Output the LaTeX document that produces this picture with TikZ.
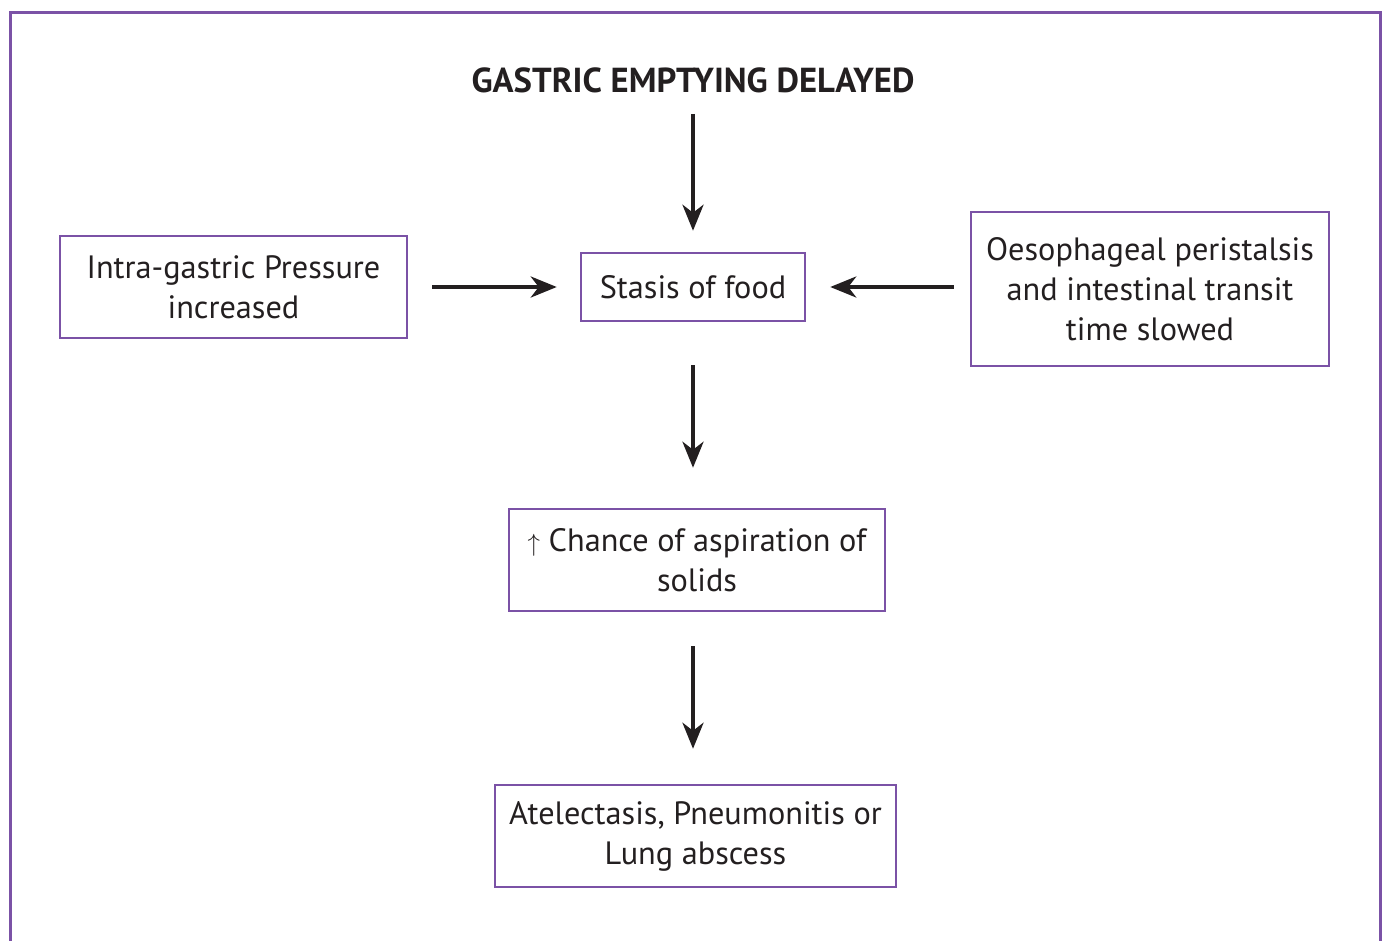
\documentclass[tikz,border=0pt]{standalone}
\usepackage{fontspec}
\setmainfont{PT Sans}
\usetikzlibrary{arrows.meta}
\definecolor{frame}{HTML}{7B52A6}
\definecolor{ink}{HTML}{231F20}
\begin{document}
\begin{tikzpicture}[x=1pt,y=-1pt,
  box/.style={draw=frame,line width=2.5pt,align=center,text=ink,inner sep=0pt,
    font=\fontsize{32.3}{40}\selectfont},
  flow/.style={draw=ink,line width=4pt,-{Stealth[length=26pt,width=21pt,inset=8pt]}}]
\useasboundingbox (0,0) rectangle (1384,940);
\draw[frame,line width=3pt] (10,945) -- (10,12) -- (1380,12) -- (1380,945);
\node[text=ink,font=\fontsize{34.7}{40}\selectfont\bfseries,inner sep=0pt] (title) at (693,80) {GASTRIC EMPTYING DELAYED};
\node[box,minimum width=224pt,minimum height=68pt] (stasis) at (693,287) {Stasis of food};
\node[box,minimum width=347pt,minimum height=102pt] (left) at (233.5,287) {Intra-gastric Pressure\\increased};
\node[box,minimum width=358pt,minimum height=154pt] (right) at (1150,289) {Oesophageal peristalsis\\and intestinal transit\\time slowed};
\node[box,minimum width=376pt,minimum height=102pt] (chance) at (697,560) {$\big\uparrow$ Chance of aspiration of\\solids};
\node[box,minimum width=401pt,minimum height=102pt] (lung) at (695.5,836) {Atelectasis, Pneumonitis or\\Lung abscess};
\draw[flow,shorten <=21pt,shorten >=21pt] (title.south -| stasis.north) -- (stasis.north);
\draw[flow,shorten <=24pt,shorten >=23pt] (left.east |- stasis.west) -- (stasis.west);
\draw[flow,shorten <=16pt,shorten >=24pt] (right.west |- stasis.east) -- (stasis.east);
\draw[flow,shorten <=43pt,shorten >=40pt] (stasis.south) -- (stasis.south |- chance.north);
\draw[flow,shorten <=34pt,shorten >=35pt] (stasis.south |- chance.south) -- (stasis.south |- lung.north);
\end{tikzpicture}
\end{document}
